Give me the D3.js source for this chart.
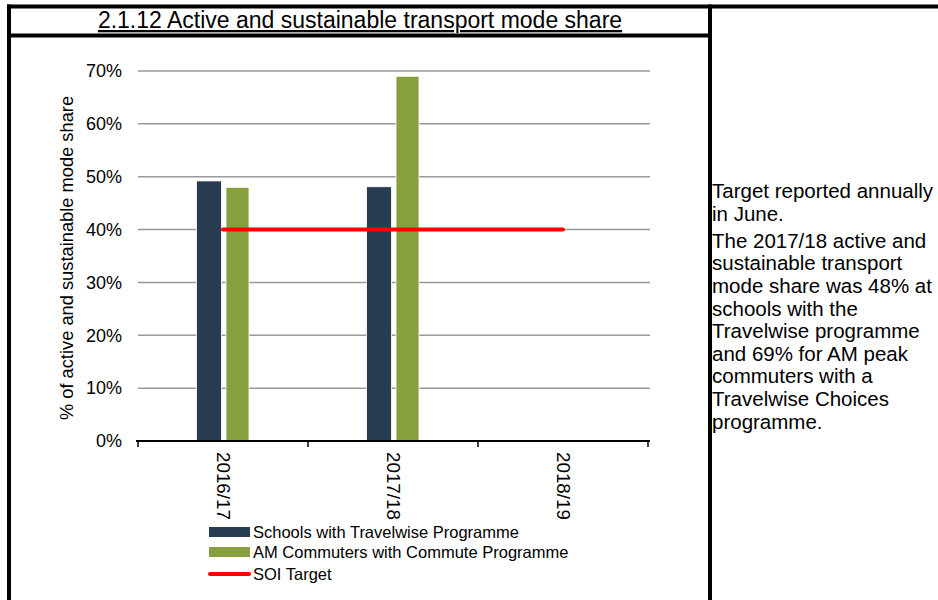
<!DOCTYPE html>
<html><head><meta charset="utf-8">
<script src="https://cdn.jsdelivr.net/npm/d3@7"></script>
<style>
html,body{margin:0;padding:0;background:#fff;}
svg{display:block;font-family:"Liberation Sans",Arial,sans-serif;}
</style></head>
<body>
<svg id="chart" width="938" height="600"></svg>
<script>
const title = "2.1.12 Active and sustainable transport mode share";
const categories = ["2016/17", "2017/18", "2018/19"];
const schools = [49.2, 48.1, null];
const commuters = [48.0, 69.0, null];
const target = [40, 40, 40];
const yTicks = [0, 10, 20, 30, 40, 50, 60, 70];
const yLabel = "% of active and sustainable mode share";
const seriesNames = ["Schools with Travelwise Programme", "AM Commuters with Commute Programme", "SOI Target"];
const noteParagraphs = [
  ["Target reported annually", "in June."],
  ["The 2017/18 active and", "sustainable transport", "mode share was 48% at", "schools with the", "Travelwise programme", "and 69% for AM peak", "commuters with a", "Travelwise Choices", "programme."]
];

const colors = {schools: "#283C51", commuters: "#87A03D", target: "#FF0000"};

const svg = d3.select("#chart");

// frame
const frame = svg.append("g").attr("stroke", "#000").attr("stroke-width", 4);
frame.append("line").attr("x1", 7).attr("x2", 938).attr("y1", 6.5).attr("y2", 6.5);
frame.append("line").attr("x1", 9).attr("x2", 9).attr("y1", 4.5).attr("y2", 600);
frame.append("line").attr("x1", 710).attr("x2", 710).attr("y1", 4.5).attr("y2", 600);
frame.append("line").attr("x1", 7).attr("x2", 712).attr("y1", 35.5).attr("y2", 35.5);

// title
svg.append("text").attr("x", 360).attr("y", 28).attr("text-anchor", "middle")
  .attr("font-size", 23).attr("fill", "#000").attr("text-decoration", "underline").text(title);

// scales
const x = d3.scaleBand().domain(categories).range([138, 648]).paddingInner(0).paddingOuter(0);
const y = d3.scaleLinear().domain([0, 70]).range([441, 71]);

// gridlines
svg.append("g").selectAll("line").data(yTicks.filter(d => d > 0)).join("line")
  .attr("x1", 138).attr("x2", 650).attr("y1", d => y(d)).attr("y2", d => y(d))
  .attr("stroke", "#999").attr("stroke-width", 1.5);

// y axis labels
const yAxis = d3.axisLeft(y).tickValues(yTicks).tickFormat(d => d + "%").tickSize(0).tickPadding(16);
const ya = svg.append("g").attr("transform", "translate(138,0)").call(yAxis);
ya.select(".domain").remove();
ya.selectAll("text").attr("font-size", 18).attr("fill", "#000").attr("font-family", "Liberation Sans, Arial, sans-serif");

// y title
svg.append("text").attr("transform", "translate(73,258) rotate(-90)").attr("text-anchor", "middle")
  .attr("font-size", 18.3).attr("fill", "#000").text(yLabel);

// bars
const bw = 25, gap = 1.5;
const data = categories.map((c, i) => ({c, s: schools[i], m: commuters[i]}));
svg.append("g").selectAll("rect").data(data.filter(d => d.s != null)).join("rect")
  .attr("x", d => x(d.c) + x.bandwidth() / 2 - gap - bw).attr("width", bw)
  .attr("y", d => y(d.s)).attr("height", d => y(0) - y(d.s))
  .attr("fill", colors.schools).attr("stroke", "#fff").attr("stroke-width", 0.8);
svg.append("g").selectAll("rect").data(data.filter(d => d.m != null)).join("rect")
  .attr("x", d => x(d.c) + x.bandwidth() / 2 + gap + 1.5).attr("width", bw - 2)
  .attr("y", d => y(d.m)).attr("height", d => y(0) - y(d.m))
  .attr("fill", colors.commuters).attr("stroke", "#fff").attr("stroke-width", 0.8);

// target line
const line = d3.line().x((d, i) => x(categories[i]) + x.bandwidth() / 2).y(d => y(d));
svg.append("path").datum(target).attr("d", line).attr("fill", "none")
  .attr("stroke", colors.target).attr("stroke-width", 4).attr("stroke-linecap", "round");

// x axis
const xa = svg.append("g").attr("transform", "translate(0,441)");
xa.append("line").attr("x1", 136).attr("x2", 650).attr("y1", 0).attr("y2", 0).attr("stroke", "#000").attr("stroke-width", 2);
const tickPos = [138].concat(categories.map(c => x(c) + x.bandwidth()));
xa.selectAll("line.tk").data(tickPos).join("line").attr("class", "tk")
  .attr("x1", d => d).attr("x2", d => d).attr("y1", 0).attr("y2", 6).attr("stroke", "#000").attr("stroke-width", 1.5);
xa.selectAll("text").data(categories).join("text")
  .attr("transform", d => `translate(${x(d) + x.bandwidth() / 2 + 1},11) rotate(90)`)
  .attr("dy", "0.35em").attr("text-anchor", "start")
  .attr("font-size", 18.8).attr("fill", "#000").text(d => d);

// legend
const lg = svg.append("g").attr("transform", "translate(209,0)");
const ly = [532, 552, 574];
lg.append("rect").attr("x", 0).attr("y", ly[0] - 5).attr("width", 41).attr("height", 10).attr("fill", colors.schools);
lg.append("rect").attr("x", 0).attr("y", ly[1] - 5).attr("width", 41).attr("height", 10).attr("fill", colors.commuters);
lg.append("line").attr("x1", 1).attr("x2", 40).attr("y1", ly[2]).attr("y2", ly[2]).attr("stroke", colors.target).attr("stroke-width", 4).attr("stroke-linecap", "round");
lg.selectAll("text").data(seriesNames).join("text")
  .attr("x", 44).attr("y", (d, i) => ly[i]).attr("dy", "0.35em")
  .attr("font-size", 16.5).attr("fill", "#000").text(d => d);

// note text
const noteLines = [];
let ny = 198;
noteParagraphs.forEach((p, pi) => {
  if (pi > 0) ny += 4.5;
  p.forEach(l => { noteLines.push({l, y: ny}); ny += 22.6; });
});
svg.append("g").selectAll("text").data(noteLines).join("text")
  .attr("x", 712).attr("y", d => d.y)
  .attr("font-size", 20.5).attr("fill", "#000").text(d => d.l);
</script>
</body></html>
